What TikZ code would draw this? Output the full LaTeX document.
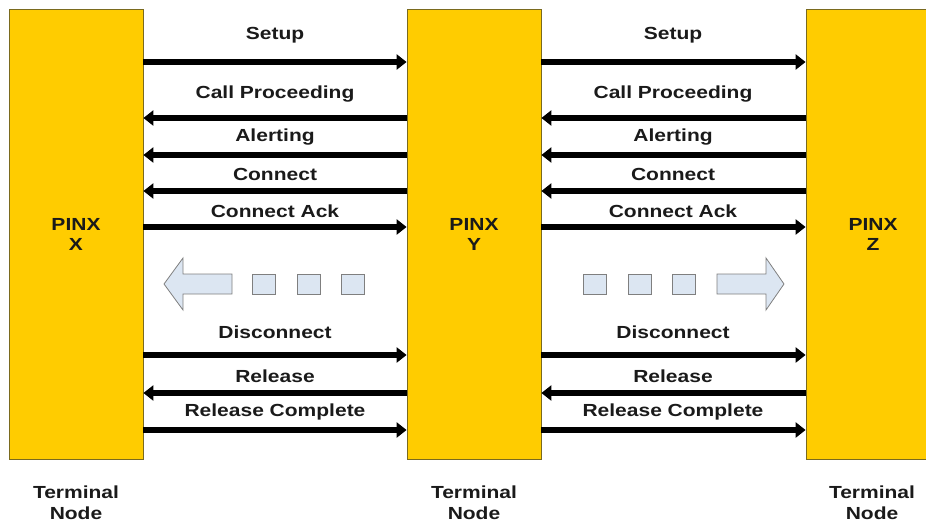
\documentclass[tikz,border=0pt]{standalone}
\usepackage{fontspec}
\newfontfamily\lblfont[FakeStretch=1.2]{Liberation Sans}
\usetikzlibrary{positioning,arrows.meta,calc}

\definecolor{bargold}{HTML}{FFCC00}
\definecolor{barline}{HTML}{7A6A1E}
\definecolor{blkfill}{HTML}{DCE6F2}
\definecolor{blkline}{HTML}{7F7F7F}
\definecolor{txt}{HTML}{1A1A1A}

\begin{document}
\begin{tikzpicture}[
    x=1pt, y=-1pt,
    pinx/.style={rectangle, draw=barline, fill=bargold, line width=0.8pt, align=center,
                 minimum width=134pt, minimum height=450pt, inner sep=0pt,
                 text=txt, font=\lblfont\bfseries\fontsize{17.5}{20}\selectfont},
    lbl/.style={inner sep=0pt, text=txt, align=center,
                font=\lblfont\bfseries\fontsize{17.5}{21}\selectfont},
    msg/.style={-{Triangle[length=10pt,width=15pt]}, line width=5.2pt, draw=black},
    dot/.style={rectangle, draw=blkline, fill=blkfill, line width=0.8pt,
                minimum width=23pt, minimum height=20pt, inner sep=0pt},
    blk/.style={draw=blkline, fill=blkfill, line width=0.8pt, line join=miter},
  ]
    \useasboundingbox (0,0) rectangle (926,522);

    % the three PINX columns
    \node[pinx] (X) at (76,234) {PINX\\X};
    \node[pinx] (Y) at (474,234) {PINX\\Y};
    \node[pinx] (Z) at (873,234) {PINX\\Z};

    \node[lbl] (tX) at (76,503) {Terminal\\Node};
    \node[lbl] (tY) at (474,503) {Terminal\\Node};
    \node[lbl] (tZ) at (872,503) {Terminal\\Node};

    % X <-> Y
    \node[lbl] at (275,35) {Setup};
    \node[lbl] at (275,94) {Call Proceeding};
    \node[lbl] at (275,137) {Alerting};
    \node[lbl] at (275,174) {Connect};
    \node[lbl] at (275,211) {Connect Ack};
    \node[lbl] at (275,332) {Disconnect};
    \node[lbl] at (275,376) {Release};
    \node[lbl] at (275,412) {Release Complete};

    \draw[msg] (X.east |- 0,62) -- (Y.west |- 0,62);
    \draw[msg] (Y.west |- 0,118) -- (X.east |- 0,118);
    \draw[msg] (Y.west |- 0,155) -- (X.east |- 0,155);
    \draw[msg] (Y.west |- 0,191) -- (X.east |- 0,191);
    \draw[msg] (X.east |- 0,227) -- (Y.west |- 0,227);
    \draw[msg] (X.east |- 0,355) -- (Y.west |- 0,355);
    \draw[msg] (Y.west |- 0,393) -- (X.east |- 0,393);
    \draw[msg] (X.east |- 0,430) -- (Y.west |- 0,430);

    % Y <-> Z
    \node[lbl] at (673,35) {Setup};
    \node[lbl] at (673,94) {Call Proceeding};
    \node[lbl] at (673,137) {Alerting};
    \node[lbl] at (673,174) {Connect};
    \node[lbl] at (673,211) {Connect Ack};
    \node[lbl] at (673,332) {Disconnect};
    \node[lbl] at (673,376) {Release};
    \node[lbl] at (673,412) {Release Complete};

    \draw[msg] (Y.east |- 0,62) -- (Z.west |- 0,62);
    \draw[msg] (Z.west |- 0,118) -- (Y.east |- 0,118);
    \draw[msg] (Z.west |- 0,155) -- (Y.east |- 0,155);
    \draw[msg] (Z.west |- 0,191) -- (Y.east |- 0,191);
    \draw[msg] (Y.east |- 0,227) -- (Z.west |- 0,227);
    \draw[msg] (Y.east |- 0,355) -- (Z.west |- 0,355);
    \draw[msg] (Z.west |- 0,393) -- (Y.east |- 0,393);
    \draw[msg] (Y.east |- 0,430) -- (Z.west |- 0,430);

    % continuation marks
    \draw[blk] (164,284) -- (183,258) -- (183,274) -- (232,274) -- (232,294)
               -- (183,294) -- (183,310) -- cycle;
    \node[dot] (l1) at (263.5,284) {};
    \node[dot] (l2) at (308.5,284) {};
    \node[dot] (l3) at (352.5,284) {};

    \node[dot] (r1) at (595,284) {};
    \node[dot] (r2) at (640,284) {};
    \node[dot] (r3) at (684,284) {};
    \draw[blk] (784,284) -- (766,258) -- (766,274) -- (717,274) -- (717,294)
               -- (766,294) -- (766,310) -- cycle;
\end{tikzpicture}
\end{document}
